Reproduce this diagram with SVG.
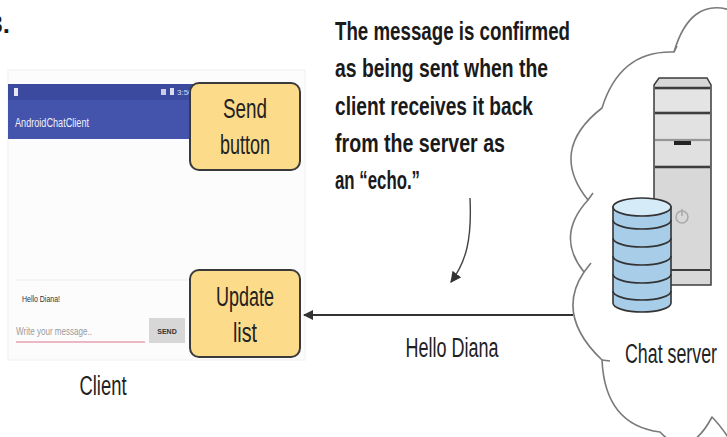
<svg xmlns="http://www.w3.org/2000/svg" width="727" height="437" viewBox="0 0 727 437">
  <defs>
    <style>
      .label { font-family: "Liberation Sans Narrow", "Liberation Sans", Arial, sans-serif; fill: #222; font-size: 27px; }
      .note { font-family: "Liberation Sans Narrow", "Liberation Sans", Arial, sans-serif; font-weight: bold; fill: #1a1a1a; font-size: 26px; }
      .box { fill: #fcdc8a; stroke: #3a3a3a; stroke-width: 2; }
      .conn { fill: none; stroke: #333; stroke-width: 2; }
      .cloud { fill: none; stroke: #7a7a7a; stroke-width: 1.6; stroke-linejoin: round; }
      .tower { fill: #d8d8d8; stroke: #3d3d3d; stroke-width: 1.5; }
      .band { stroke: #3d3d3d; stroke-width: 2.5; }
      .disk { fill: #a8cde8; stroke: #333; stroke-width: 1.6; }
      .ring { fill: none; stroke: #333; stroke-width: 1.6; }
      .ui { font-family: "Liberation Sans Narrow", "Liberation Sans", Arial, sans-serif; }
    </style>
    <marker id="arrowHead" viewBox="0 0 10 10" refX="9" refY="5" markerWidth="10" markerHeight="10" markerUnits="userSpaceOnUse" orient="auto">
      <path d="M0,0 L10,5 L0,10 Z" fill="#333"/>
    </marker>
    <marker id="arrowHeadSmall" viewBox="0 0 10 10" refX="9" refY="5" markerWidth="11" markerHeight="11" markerUnits="userSpaceOnUse" orient="auto">
      <path d="M0,0 L10,5 L0,10 Z" fill="#333"/>
    </marker>
  </defs>

  <rect x="0" y="0" width="727" height="437" fill="#ffffff"/>

  <!-- step number, clipped at the left edge -->
  <text x="10" y="33" text-anchor="end" class="note" font-size="30">3.</text>

  <!-- cloud around the chat server -->
  <g id="cloud">
    <path class="cloud" d="M 730 10 Q 690 -2 674 52 Q 620 50 602 108 Q 548 150 588 200 Q 555 236 584 272 Q 555 315 602 360 Q 605 425 660 432 Q 688 462 712 417 Q 720 425 730 440"/>
    <path class="cloud" d="M 674 52 l 3 -6 M 588 200 l 5 -7 M 584 272 l 7 -9 M 602 360 l 8 1"/>
  </g>

  <!-- client phone screen -->
  <g id="client-screen">
    <rect x="8" y="70" width="297" height="290" fill="#fcfcfc" stroke="#f0f0f0" stroke-width="1"/>
    <rect x="8" y="84" width="190" height="55" fill="#4454ac"/>
    <rect x="8" y="84" width="190" height="16" fill="#3b4a9e"/>
    <rect x="14" y="88" width="4" height="8" fill="#e8e8f4"/>
    <rect x="161" y="89" width="5" height="6" fill="#c8cce6"/>
    <rect x="170" y="88" width="4" height="7" fill="#d8dcf0"/>
    <text x="177" y="95" class="ui" font-size="8" fill="#d8dcf0">3:50</text>
    <text x="15" y="127" class="ui" font-size="12" fill="#eef0fa" textLength="74" lengthAdjust="spacingAndGlyphs">AndroidChatClient</text>
    <line x1="15" y1="280" x2="190" y2="280" stroke="#ececec" stroke-width="1"/>
    <text x="22" y="302" class="ui" font-size="9" fill="#333" textLength="38" lengthAdjust="spacingAndGlyphs">Hello Diana!</text>
    <text x="16" y="335" class="ui" font-size="11" fill="#9a9a9a" textLength="76" lengthAdjust="spacingAndGlyphs">Write your message..</text>
    <line x1="16" y1="342" x2="145" y2="342" stroke="#e6a3b3" stroke-width="1.6"/>
    <rect x="149" y="318" width="36" height="25" fill="#d7d7d7"/>
    <text x="167" y="334" text-anchor="middle" class="ui" font-size="7" font-weight="bold" fill="#333">SEND</text>
  </g>

  <g id="client-label">
    <text x="103" y="395" text-anchor="middle" class="label" textLength="47" lengthAdjust="spacingAndGlyphs">Client</text>
  </g>

  <!-- yellow callouts -->
  <g id="send-button">
    <rect class="box" x="190" y="83" width="110" height="87" rx="9"/>
    <text x="245" y="118" text-anchor="middle" class="label" textLength="44" lengthAdjust="spacingAndGlyphs">Send</text>
    <text x="245" y="154" text-anchor="middle" class="label" textLength="50" lengthAdjust="spacingAndGlyphs">button</text>
  </g>

  <g id="update-list">
    <rect class="box" x="190" y="270" width="110" height="87" rx="9"/>
    <text x="245" y="306" text-anchor="middle" class="label" textLength="58" lengthAdjust="spacingAndGlyphs">Update</text>
    <text x="245" y="342" text-anchor="middle" class="label" textLength="24" lengthAdjust="spacingAndGlyphs">list</text>
  </g>

  <!-- explanatory note -->
  <g id="echo-note">
    <text x="335" y="40" class="note" textLength="235" lengthAdjust="spacingAndGlyphs">The message is confirmed</text>
    <text x="335" y="77" class="note" textLength="213" lengthAdjust="spacingAndGlyphs">as being sent when the</text>
    <text x="335" y="115" class="note" textLength="198" lengthAdjust="spacingAndGlyphs">client receives it back</text>
    <text x="335" y="152" class="note" textLength="170" lengthAdjust="spacingAndGlyphs">from the server as</text>
    <text x="335" y="189" class="note" textLength="85" lengthAdjust="spacingAndGlyphs">an “echo.”</text>
  </g>

  <!-- chat server: tower plus database -->
  <g id="chat-server">
    <path class="tower" d="M 659 78 L 707 78 L 711 85 L 711 285 L 654 285 L 654 85 Z"/>
    <rect x="655" y="90" width="55" height="21" fill="#e4e4e4"/>
    <rect x="655" y="115" width="55" height="23" fill="#e2e2e2"/>
    <rect x="655" y="142" width="55" height="23" fill="#e0e0e0"/>
    <line class="band" x1="655" y1="88" x2="710" y2="88"/>
    <line class="band" x1="655" y1="113" x2="710" y2="113"/>
    <line x1="655" y1="140" x2="710" y2="140" stroke="#555" stroke-width="1.2"/>
    <rect x="674" y="141" width="17" height="4" fill="#222"/>
    <line class="band" x1="655" y1="167" x2="710" y2="167"/>
    <line x1="655" y1="270" x2="710" y2="270" stroke="#3d3d3d" stroke-width="2"/>
    <circle cx="682" cy="217" r="6" fill="none" stroke="#a8a8a8" stroke-width="1.5"/>
    <line x1="682" y1="209" x2="682" y2="216" stroke="#a8a8a8" stroke-width="1.5"/>

    <path class="disk" d="M 613 207 L 613 303 A 29 9 0 0 0 671 303 L 671 207 Z"/>
    <ellipse cx="642" cy="207" rx="29" ry="9" fill="#d6ebf8" stroke="#333" stroke-width="1.6"/>
    <path class="ring" d="M 613 220 A 29 9 0 0 0 671 220"/>
    <path class="ring" d="M 613 238 A 29 9 0 0 0 671 238"/>
    <path class="ring" d="M 613 256 A 29 9 0 0 0 671 256"/>
    <path class="ring" d="M 613 274 A 29 9 0 0 0 671 274"/>
    <path class="ring" d="M 613 291 A 29 9 0 0 0 671 291"/>
    <text x="671" y="363" text-anchor="middle" class="label" textLength="92" lengthAdjust="spacingAndGlyphs">Chat server</text>
  </g>

  <!-- connectors -->
  <g id="connectors">
    <path class="conn" d="M 573 315 L 304 315" marker-end="url(#arrowHead)"/>
    <text x="452" y="357" text-anchor="middle" class="label" textLength="93" lengthAdjust="spacingAndGlyphs">Hello Diana</text>
    <path d="M 470 198 C 472 240, 466 262, 451 282" fill="none" stroke="#444" stroke-width="1.4" marker-end="url(#arrowHeadSmall)"/>
  </g>
</svg>
